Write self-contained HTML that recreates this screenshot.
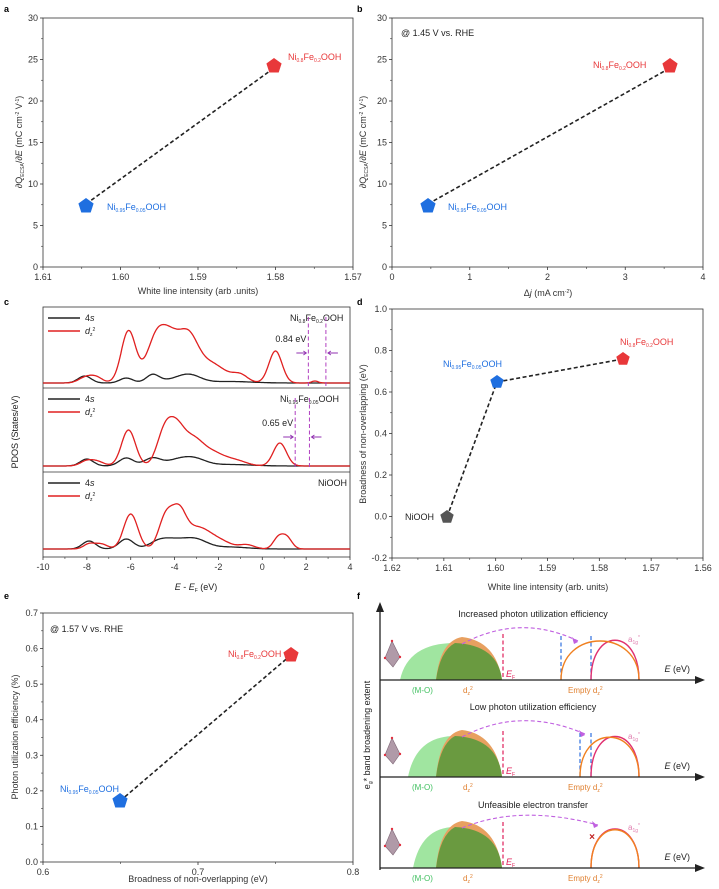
<!DOCTYPE html>
<html><head><meta charset="utf-8"><style>
html,body{margin:0;padding:0;background:#fff}
svg{display:block;font-family:"Liberation Sans",sans-serif}
</style></head><body>
<svg id="s" width="719" height="889" viewBox="0 0 719 889" xmlns="http://www.w3.org/2000/svg">
<g font-weight="bold" font-size="9">
<text x="4" y="12">a</text><text x="357" y="12">b</text><text x="4" y="305">c</text>
<text x="357" y="305">d</text><text x="4" y="599">e</text><text x="357" y="599">f</text></g>
</svg>
<script>
var s=document.getElementById('s'),o='';
function T(x,y,t,a,ex){o+='<text x="'+x+'" y="'+y+'" font-size="'+(a||9)+'" '+(ex||'')+'>'+t+'</text>';}
function box(x0,y0,x1,y1){o+='<rect x="'+x0+'" y="'+y0+'" width="'+(x1-x0)+'" height="'+(y1-y0)+'" fill="none" stroke="#333" stroke-width="0.8"/>';}
function xt(x0,x1,yb,labs,minor){var n=labs.length-1;for(var i=0;i<=n;i++){var x=x0+(x1-x0)*i/n;o+='<line x1="'+x+'" y1="'+yb+'" x2="'+x+'" y2="'+(yb+3)+'" stroke="#333" stroke-width="0.8"/>';T(x,yb+13,labs[i],9,'text-anchor="middle" fill="#333"');if(minor&&i<n){var xm=x+(x1-x0)/n/2;o+='<line x1="'+xm+'" y1="'+yb+'" x2="'+xm+'" y2="'+(yb+2)+'" stroke="#333" stroke-width="0.6"/>';}}}
function yt(xl,y0,y1,labs){var n=labs.length-1;for(var i=0;i<=n;i++){var y=y1-(y1-y0)*i/n;o+='<line x1="'+xl+'" y1="'+y+'" x2="'+(xl-3)+'" y2="'+y+'" stroke="#333" stroke-width="0.8"/>';T(xl-5,y+3,labs[i],9,'text-anchor="end" fill="#333"');if(i<n){var ym=y-(y1-y0)/n/2;o+='<line x1="'+xl+'" y1="'+ym+'" x2="'+(xl-2)+'" y2="'+ym+'" stroke="#333" stroke-width="0.6"/>';}}}
function pent(cx,cy,r,c){var p=[];for(var i=0;i<5;i++){var a=-Math.PI/2+i*2*Math.PI/5;p.push((cx+r*Math.cos(a)).toFixed(1)+','+(cy+r*Math.sin(a)).toFixed(1));}o+='<polygon points="'+p.join(' ')+'" fill="'+c+'"/>';}
function dash(x1,y1,x2,y2){o+='<line x1="'+x1+'" y1="'+y1+'" x2="'+x2+'" y2="'+y2+'" stroke="#222" stroke-width="1.6" stroke-dasharray="4,2.5"/>';}
function lab(x,y,a,b,c,col){o+='<text x="'+x+'" y="'+y+'" font-size="9" fill="'+col+'">Ni<tspan font-size="5" dy="2">'+a+'</tspan><tspan dy="-2">Fe</tspan><tspan font-size="5" dy="2">'+b+'</tspan><tspan dy="-2">OOH</tspan></text>';}
var BL='#1f6fe0',RD='#e8383a';
var YL='∂Q<tspan font-size="5" dy="2">ECSA</tspan><tspan dy="-2">/∂</tspan><tspan font-style="italic">E</tspan> (mC cm<tspan font-size="5" dy="-3">-2</tspan><tspan dy="3"> V</tspan><tspan font-size="5" dy="-3">-1</tspan><tspan dy="3">)</tspan>';
// a
box(43,18,353,267);xt(43,353,267,['1.61','1.60','1.59','1.58','1.57'],1);yt(43,18,267,['0','5','10','15','20','25','30']);
dash(86,204,274,68);pent(86,206,8,BL);pent(274,66,8,RD);lab(107,210,'0.95','0.05','',BL);lab(288,60,'0.8','0.2','',RD);
T(198,294,'White line intensity (arb .units)',9,'text-anchor="middle" fill="#333"');
T(0,0,YL,9,'transform="translate(22,142) rotate(-90)" text-anchor="middle" fill="#333"');
// b
box(392,18,703,267);xt(392,703,267,['0','1','2','3','4'],1);yt(392,18,267,['0','5','10','15','20','25','30']);
dash(428,204,670,68);pent(428,206,8,BL);pent(670,66,8,RD);lab(448,210,'0.95','0.05','',BL);lab(593,68,'0.8','0.2','',RD);
T(401,36,'@ 1.45 V vs. RHE',9,'fill="#222"');
T(548,296,'Δ<tspan font-style="italic">j</tspan> (mA cm<tspan font-size="5" dy="-3">-2</tspan><tspan dy="3">)</tspan>',9,'text-anchor="middle" fill="#333"');
T(0,0,YL,9,'transform="translate(366,142) rotate(-90)" text-anchor="middle" fill="#333"');
// c
box(43,307,350,557);o+='<line x1="43" y1="388" x2="350" y2="388" stroke="#333" stroke-width="0.8"/><line x1="43" y1="472" x2="350" y2="472" stroke="#333" stroke-width="0.8"/>';
xt(43,350,557,['-10','-8','-6','-4','-2','0','2','4'],1);
function X(E){return 43+(E+10)*21.93;}
function curve(base,g,col,w){var d='';for(var E=-10;E<=4.001;E+=0.05){var v=0;for(var i=0;i<g.length;i++){var q=g[i];v+=q[2]*Math.exp(-Math.pow((E-q[0])/q[1],2)/2);}d+=(d?'L':'M')+X(E).toFixed(1)+','+(base-v).toFixed(1);}o+='<path d="'+d+'" fill="none" stroke="'+col+'" stroke-width="'+(w||1.3)+'"/>';}
var sets=[
 {b:383,r:[[-8.1,0.3,5],[-7.6,0.3,6],[-6.1,0.33,52],[-4.9,0.42,36],[-4.2,0.48,42],[-3.35,0.42,36],[-2.4,0.7,20],[-1.0,0.35,7],[0.6,0.3,32],[2.4,0.15,2]],
  k:[[-8.1,0.3,7],[-6.2,0.3,5],[-5.0,0.3,8],[-4,0.6,3],[-3.3,0.5,7],[-1.5,1,1.5]],t:['0.8','0.2'],v:[2.1,2.9],e:'0.84 eV',ey:342},
 {b:466,r:[[-8.0,0.3,5],[-7.5,0.3,4],[-6.1,0.32,36],[-4.45,0.35,34],[-3.9,0.35,30],[-3.2,0.45,24],[-2.3,0.55,13],[-1.2,0.5,5],[0.8,0.3,23]],
  k:[[-8.0,0.3,7],[-6.2,0.33,8],[-5.0,0.38,8],[-4.0,0.45,4],[-3.2,0.55,8],[-1.5,1,1.5]],t:['0.95','0.05'],v:[1.5,2.15],e:'0.65 eV',ey:426},
 {b:549,r:[[-7.9,0.25,5],[-7.35,0.28,5],[-6.0,0.32,35],[-4.4,0.32,32],[-3.8,0.32,32],[-3.0,0.55,20],[-2.0,0.55,8],[-0.7,0.35,4],[0.7,0.22,10],[1.1,0.24,12]],
  k:[[-7.9,0.3,8],[-6.2,0.33,10],[-4.7,0.45,8],[-4.0,0.45,6],[-3.1,0.55,10],[-1.5,0.8,2]],t:null}];
var tops=[307,388,472];
sets.forEach(function(S,i){curve(S.b,S.k,'#222');curve(S.b,S.r,'#e02020');var ty=tops[i];
 o+='<line x1="48" y1="'+(ty+11)+'" x2="80" y2="'+(ty+11)+'" stroke="#222" stroke-width="1.5"/><line x1="48" y1="'+(ty+24)+'" x2="80" y2="'+(ty+24)+'" stroke="#e02020" stroke-width="1.5"/>';
 T(85,ty+14,'4<tspan font-style="italic">s</tspan>',9,'fill="#222"');T(85,ty+27,'<tspan font-style="italic">d</tspan><tspan font-size="5" dy="2">z</tspan><tspan font-size="5" dy="-5">2</tspan>',9,'fill="#222"');
 if(S.t){lab(i==0?290:280,ty+14,S.t[0],S.t[1],'','#222');
  S.v.forEach(function(E){o+='<line x1="'+X(E)+'" y1="'+(ty+10)+'" x2="'+X(E)+'" y2="'+(ty+80)+'" stroke="#b040c0" stroke-width="1" stroke-dasharray="4,2.5"/>';});
  var ay=S.ey+11,a1=X(S.v[0]),a2=X(S.v[1]);o+='<path d="M'+(a1-12)+','+ay+'H'+(a1-2)+'M'+(a1-5)+','+(ay-2)+'L'+(a1-2)+','+ay+'L'+(a1-5)+','+(ay+2)+'M'+(a2+12)+','+ay+'H'+(a2+2)+'M'+(a2+5)+','+(ay-2)+'L'+(a2+2)+','+ay+'L'+(a2+5)+','+(ay+2)+'" stroke="#9030b0" fill="none" stroke-width="0.9"/>';
  T(a1-2,S.ey,S.e,9,'text-anchor="end" fill="#222"');}
 else T(347,ty+14,'NiOOH',9,'text-anchor="end" fill="#222"');});
T(196,590,'<tspan font-style="italic">E</tspan> - <tspan font-style="italic">E</tspan><tspan font-size="5" dy="2">F</tspan><tspan dy="-2"> (eV)</tspan>',9,'text-anchor="middle" fill="#222"');
T(0,0,'PDOS (States/eV)',9,'transform="translate(18,432) rotate(-90)" text-anchor="middle" fill="#222"');
// d
box(392,309,703,558);xt(392,703,558,['1.62','1.61','1.60','1.59','1.58','1.57','1.56'],1);yt(392,309,558,['-0.2','0.0','0.2','0.4','0.6','0.8','1.0']);
dash(447,517,497,382);dash(497,382,623,359);pent(447,517,7,'#555');pent(497,382,7,BL);pent(623,359,7,RD);
T(405,520,'NiOOH',9,'fill="#222"');lab(443,367,'0.95','0.05','',BL);lab(620,345,'0.8','0.2','',RD);
T(548,590,'White line intensity (arb. units)',9,'text-anchor="middle" fill="#333"');
T(0,0,'Broadness of non-overlapping (eV)',9,'transform="translate(366,434) rotate(-90)" text-anchor="middle" fill="#333"');
// e
box(43,613,353,862);xt(43,353,862,['0.6','0.7','0.8'],1);yt(43,613,862,['0.0','0.1','0.2','0.3','0.4','0.5','0.6','0.7']);
dash(120,801,291,655);pent(120,801,8,BL);pent(291,655,8,RD);lab(60,792,'0.95','0.05','',BL);lab(228,657,'0.8','0.2','',RD);
T(50,632,'@ 1.57 V vs. RHE',9,'fill="#222"');
T(198,882,'Broadness of non-overlapping (eV)',9,'text-anchor="middle" fill="#333"');
T(0,0,'Photon utilization efficiency (%)',9,'transform="translate(18,737) rotate(-90)" text-anchor="middle" fill="#333"');
// f
o+='<path d="M380,870V610" stroke="#222" stroke-width="1.3"/><polygon points="380,602 376,612 384,612" fill="#222"/>';
T(0,0,'e<tspan font-size="5" dy="2">g</tspan><tspan dy="-2">* band broadening extent</tspan>',9,'transform="translate(370,735) rotate(-90)" text-anchor="middle" fill="#222"');
var P=[{b:680,g0:400,gt:643,ot:637,ar:[[591,639,637,'#e03070'],[561,639,638,'#f08020']],bl:[561,591],t:'Increased photon utilization efficiency',ty:617,ae:578},
 {b:777,g0:408,gt:736,ot:730,ar:[[591,639,733,'#e03070'],[580,639,734,'#f08020']],bl:[580,591],t:'Low photon utilization efficiency',ty:710,ae:585},
 {b:868,g0:413,gt:827,ot:821,ar:[[591,639,826,'#e03070'],[591,639,827,'#f08020']],bl:[],t:'Unfeasible electron transfer',ty:808,ae:598}];
P.forEach(function(p,i){var b=p.b;
 o+='<path d="M'+p.g0+','+b+'Q'+(p.g0+8)+','+p.gt+' 455,'+p.gt+'Q498,'+(p.gt+2)+' 502,'+b+'Z" fill="#8fe08f" opacity="0.85"/>';
 o+='<path d="M436,'+b+'Q440,'+(p.ot+4)+' 462,'+p.ot+'Q496,'+(p.ot+4)+' 502,'+b+'Z" fill="#e8a060"/>';
 o+='<path d="M436,'+b+'Q440,'+(p.gt+8)+' 455,'+p.gt+'Q498,'+(p.gt+2)+' 502,'+b+'Z" fill="#6a9a40"/>';
 o+='<line x1="503" y1="'+(b-46)+'" x2="503" y2="'+b+'" stroke="#e0205a" stroke-width="1.2" stroke-dasharray="4,2.5"/>';
 p.bl.forEach(function(x){o+='<line x1="'+x+'" y1="'+(b-44)+'" x2="'+x+'" y2="'+b+'" stroke="#3070e0" stroke-width="1.2" stroke-dasharray="4,2.5"/>';});
 p.ar.forEach(function(a){o+='<path d="M'+a[0]+','+b+'C'+a[0]+','+(a[2]-10)+' '+a[1]+','+(a[2]-10)+' '+a[1]+','+b+'" fill="none" stroke="'+a[3]+'" stroke-width="1.4"/>';});
 o+='<path d="M462,'+(p.ot+7)+'Q520,'+(p.ty-4)+' '+p.ae+','+(p.ot+4)+'" fill="none" stroke="#c060e0" stroke-width="1.1" stroke-dasharray="4,2.5"/><polygon points="'+p.ae+','+(p.ot+5)+' '+(p.ae-6)+','+(p.ot)+' '+(p.ae-4)+','+(p.ot+7)+'" fill="#c060e0"/>';
 o+='<path d="M380,'+b+'H698" stroke="#222" stroke-width="1.3"/><polygon points="705,'+b+' 695,'+(b-4)+' 695,'+(b+4)+'" fill="#222"/>';
 T(533,p.ty,p.t,9,'text-anchor="middle" fill="#222"');
 T(690,b-8,'<tspan font-style="italic">E</tspan> (eV)',9,'text-anchor="end" fill="#222"');
 T(506,b-3,'<tspan font-style="italic">E</tspan><tspan font-size="5" dy="2">F</tspan>',9,'fill="#e0205a"');
 T(628,b-38,'a<tspan font-size="5" dy="2">1g</tspan><tspan font-size="5" dy="-5">*</tspan>',8,'fill="#e080b0"');
 T(412,b+13,'(M-O)',8,'fill="#40c060"');T(463,b+13,'d<tspan font-size="5" dy="2">z</tspan><tspan font-size="5" dy="-5">2</tspan>',8,'fill="#e08030"');T(568,b+13,'Empty d<tspan font-size="5" dy="2">z</tspan><tspan font-size="5" dy="-5">2</tspan>',8,'fill="#e08030"');
 var cy=b-25;o+='<polygon points="392,'+(cy-14)+' 385,'+(cy+3)+' 393,'+(cy+12)+' 400,'+(cy+2)+'" fill="#b09aa8" stroke="#806878" stroke-width="0.6"/><circle cx="392" cy="'+(cy-14)+'" r="1.2" fill="#e03040"/><circle cx="385" cy="'+(cy+3)+'" r="1.2" fill="#e03040"/><circle cx="400" cy="'+(cy+2)+'" r="1.2" fill="#e03040"/>';
});
o+='<text x="592" y="840" font-size="10" fill="#c02020" text-anchor="middle" font-weight="bold">×</text>';
s.insertAdjacentHTML('beforeend',o);
</script>
</body></html>
